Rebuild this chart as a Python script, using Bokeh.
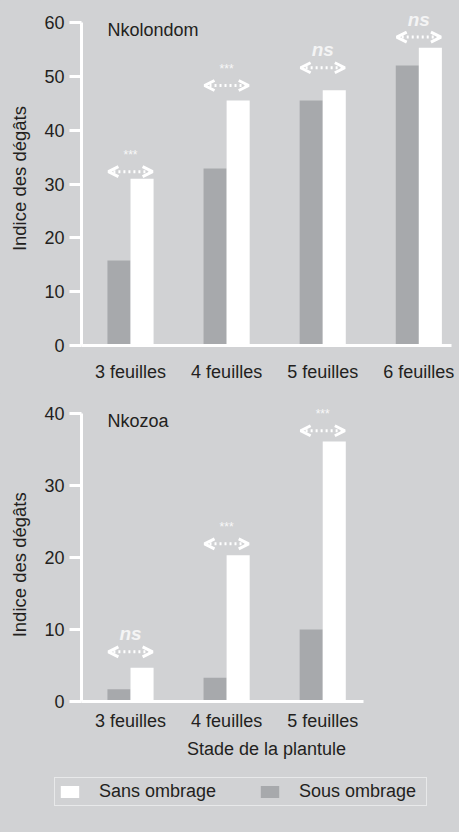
import math
from bokeh.plotting import figure
from bokeh.models import (Range1d, FixedTicker, ColumnDataSource, LabelSet, Label,
                          Arrow, OpenHead, Legend, LegendItem)
from bokeh.core.properties import value
from bokeh.layouts import column, row
from bokeh.embed import file_html
from bokeh.resources import INLINE

# ---------------- data ----------------
stages_top = ["3 feuilles", "4 feuilles", "5 feuilles", "6 feuilles"]
nkolondom_sous = [15.8, 32.9, 45.5, 52.0]
nkolondom_sans = [31.0, 45.5, 47.4, 55.3]
nkolondom_sig = ["***", "***", "ns", "ns"]
nkolondom_sig_y = [32.3, 48.3, 51.6, 57.3]

stages_bottom = ["3 feuilles", "4 feuilles", "5 feuilles"]
nkozoa_sous = [1.7, 3.3, 10.0]
nkozoa_sans = [4.7, 20.3, 36.1]
nkozoa_sig = ["ns", "***", "***"]
nkozoa_sig_y = [6.9, 21.9, 37.6]

y_ticks_top = [0, 10, 20, 30, 40, 50, 60]
y_ticks_bottom = [0, 10, 20, 30, 40]

series_labels = ["Sans ombrage", "Sous ombrage"]

# ---------------- style ----------------
BG = "#d1d2d4"
GREY = "#a7a9ac"
WHITE = "#ffffff"
TXT = "#231f20"
FONT = "Liberation Sans"
BAR_W = 0.24
LW = 40          # width of the strip holding the rotated y title
TOTAL_W = 459


def blank_fig(width, height):
    f = figure(width=width, height=height, output_backend="svg", toolbar_location=None,
               x_range=Range1d(0, width), y_range=Range1d(0, height),
               min_border=0, min_border_left=0, min_border_right=0,
               min_border_top=0, min_border_bottom=0)
    f.axis.visible = False
    f.grid.visible = False
    f.background_fill_color = BG
    f.border_fill_color = BG
    f.outline_line_color = None
    return f


def title_strip(height, center_from_top):
    f = blank_fig(LW, height)
    f.add_layout(Label(x=19, y=height - center_from_top, text="Indice des dégâts",
                       angle=math.pi / 2, text_align="center", text_baseline="middle",
                       text_font=FONT, text_font_size="18.5px", text_color=TXT))
    return f


def make_panel(title, stages, sous, sans, sig, sig_y, yticks, ymax_view,
               height, b_top, b_bottom, xbound_right, title_y, tick_standoff,
               xlabel=None):
    p = figure(width=TOTAL_W - LW, height=height, output_backend="svg",
               toolbar_location=None,
               x_range=Range1d(-0.51, 3.34), y_range=Range1d(0, ymax_view),
               min_border_left=81 - LW, min_border_right=8, min_border_top=b_top,
               min_border_bottom=b_bottom)
    p.background_fill_color = BG
    p.border_fill_color = BG
    p.outline_line_color = None
    p.grid.visible = False

    idx = list(range(len(stages)))
    src = ColumnDataSource(dict(
        xg=[i - BAR_W / 2 for i in idx], xw=[i + BAR_W / 2 for i in idx],
        sous=sous, sans=sans))
    p.vbar(x="xg", top="sous", width=BAR_W, bottom=0, source=src,
           fill_color=GREY, line_color=None)
    p.vbar(x="xw", top="sans", width=BAR_W, bottom=0, source=src,
           fill_color=WHITE, line_color=None)

    # x axis
    xa = p.xaxis[0]
    xa.ticker = FixedTicker(ticks=idx)
    xa.major_label_overrides = {i: s for i, s in zip(idx, stages)}
    xa.bounds = (-0.51, xbound_right)
    xa.axis_line_color = WHITE
    xa.axis_line_width = 3
    xa.major_tick_line_color = None
    xa.minor_tick_line_color = None
    xa.major_label_text_font = FONT
    xa.major_label_text_font_size = "18px"
    xa.major_label_text_color = TXT
    xa.major_label_standoff = tick_standoff
    if xlabel:
        xa.axis_label = xlabel
        xa.axis_label_text_font = FONT
        xa.axis_label_text_font_size = "18px"
        xa.axis_label_text_font_style = "normal"
        xa.axis_label_text_color = TXT
        xa.axis_label_standoff = 5

    # y axis
    ya = p.yaxis[0]
    ya.ticker = FixedTicker(ticks=yticks)
    ya.bounds = (0, yticks[-1])
    ya.axis_line_color = WHITE
    ya.axis_line_width = 3
    ya.major_tick_line_color = WHITE
    ya.major_tick_line_width = 3
    ya.major_tick_out = 12
    ya.major_tick_in = 0
    ya.minor_tick_line_color = None
    ya.major_label_text_font = FONT
    ya.major_label_text_font_size = "18px"
    ya.major_label_text_color = TXT
    ya.major_label_standoff = 5

    # panel title
    p.add_layout(Label(x=-0.24, y=title_y, text=title, text_align="left",
                       text_baseline="middle", text_font=FONT,
                       text_font_size="18px", text_color=TXT))

    # significance arrows
    asrc = ColumnDataSource(dict(xs=[i - 0.23 for i in idx], xe=[i + 0.23 for i in idx],
                                 y=sig_y))
    p.add_layout(Arrow(x_start="xs", y_start="y", x_end="xe", y_end="y", source=asrc,
                       line_color=WHITE, line_width=3, line_dash="2 3",
                       start=OpenHead(size=10, line_color=WHITE, line_width=3),
                       end=OpenHead(size=10, line_color=WHITE, line_width=3)))
    star_src = ColumnDataSource(dict(
        x=[i for i, s in zip(idx, sig) if s == "***"],
        y=[v for v, s in zip(sig_y, sig) if s == "***"],
        t=[s for s in sig if s == "***"]))
    ns_src = ColumnDataSource(dict(
        x=[i for i, s in zip(idx, sig) if s == "ns"],
        y=[v for v, s in zip(sig_y, sig) if s == "ns"],
        t=[s for s in sig if s == "ns"]))
    p.add_layout(LabelSet(x="x", y="y", text="t", source=star_src, y_offset=17,
                          text_align="center", text_baseline="middle",
                          text_font=value(FONT), text_font_size=value("12px"),
                          text_color=value("#f8f8f8")))
    p.add_layout(LabelSet(x="x", y="y", text="t", source=ns_src, y_offset=18,
                          text_align="center", text_baseline="middle",
                          text_font=value(FONT), text_font_size=value("19px"),
                          text_font_style=value("bold italic"),
                          text_color=value("#f4f4f4")))
    return p


H1 = 393
H2 = 378
H3 = 61

p1 = make_panel("Nkolondom", stages_top, nkolondom_sous, nkolondom_sans,
                nkolondom_sig, nkolondom_sig_y, y_ticks_top, 62.98,
                height=H1, b_top=6, b_bottom=48, xbound_right=3.34,
                title_y=58.7, tick_standoff=10)
p2 = make_panel("Nkozoa", stages_bottom, nkozoa_sous, nkozoa_sans,
                nkozoa_sig, nkozoa_sig_y, y_ticks_bottom, 42.08,
                height=H2, b_top=5, b_bottom=70, xbound_right=2.42,
                title_y=38.9, tick_standoff=3, xlabel="Stade de la plantule")

s1 = title_strip(H1, 199.5)
s2 = title_strip(H2, 207.5)

# legend strip (swatch renderers sit outside the visible range; only their legend glyphs show)
p3 = blank_fig(TOTAL_W, H3)
r_sans = p3.vbar(x=[-100], top=[1], width=1, fill_color=WHITE, line_color=None)
r_sous = p3.vbar(x=[-100], top=[1], width=1, fill_color=GREY, line_color=None)
legend = Legend(items=[LegendItem(label=series_labels[0], renderers=[r_sans]),
                       LegendItem(label=series_labels[1], renderers=[r_sous])],
                orientation="horizontal", location=(54, 26),
                background_fill_alpha=0, border_line_color=WHITE, border_line_width=1.5,
                padding=3, margin=0, spacing=35, glyph_width=23, glyph_height=15,
                label_standoff=18, label_width=124, label_height=17,
                label_text_font=FONT, label_text_font_size="18px",
                label_text_color=TXT, label_text_baseline="middle")
p3.add_layout(legend, "center")

r1 = row(s1, p1, spacing=0, styles={"background-color": BG})
r2 = row(s2, p2, spacing=0, styles={"background-color": BG})
layout = column(r1, r2, p3, spacing=0, styles={"background-color": BG})
open("out.html", "w").write(file_html(layout, INLINE))
